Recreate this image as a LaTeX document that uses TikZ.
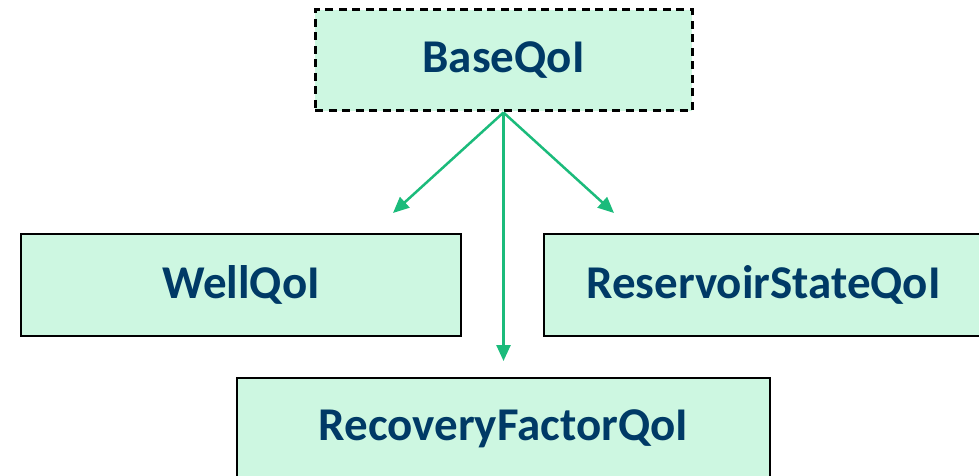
\documentclass[tikz,border=0pt]{standalone}
\usepackage{fontspec}
\setmainfont{Carlito}
\usetikzlibrary{arrows.meta}
\definecolor{boxfill}{HTML}{CDF7E1}
\definecolor{txtblue}{HTML}{003A66}
\definecolor{arrgreen}{HTML}{1BBB7B}
\tikzset{
  qoibox/.style={draw=black, line width=2pt, fill=boxfill, text=txtblue,
    font=\fontsize{47}{56}\selectfont\bfseries, inner sep=0pt},
  basebox/.style={qoibox, line width=3pt, dash pattern=on 8pt off 5.5pt},
  inh/.style={draw=arrgreen, line width=2.5pt, -{Triangle[length=16pt,width=14pt]}}
}
\begin{document}
\begin{tikzpicture}[x=1pt,y=-1pt]
\useasboundingbox (0,0) rectangle (979,476);
\clip (0,0) rectangle (979,476);
\node[basebox, minimum width=377pt, minimum height=101pt] (base) at (503.5,60.5) {BaseQoI};
\node[qoibox, minimum width=440pt, minimum height=102pt] (well) at (241,285) {WellQoI};
\node[qoibox, minimum width=439pt, minimum height=102pt] (res) at (763.5,285) {ReservoirStateQoI};
\node[qoibox, minimum width=533pt, minimum height=102pt] (rec) at (503.5,429) {RecoveryFactorQoI};
\coordinate (tl) at (393,213);
\coordinate (tr) at (614,213);
\coordinate (tm) at (503.5,361);
\draw[inh] (base.south) -- (tl);
\draw[inh] (base.south) -- (tr);
\draw[inh] (base.south) -- (tm);
\end{tikzpicture}
\end{document}
